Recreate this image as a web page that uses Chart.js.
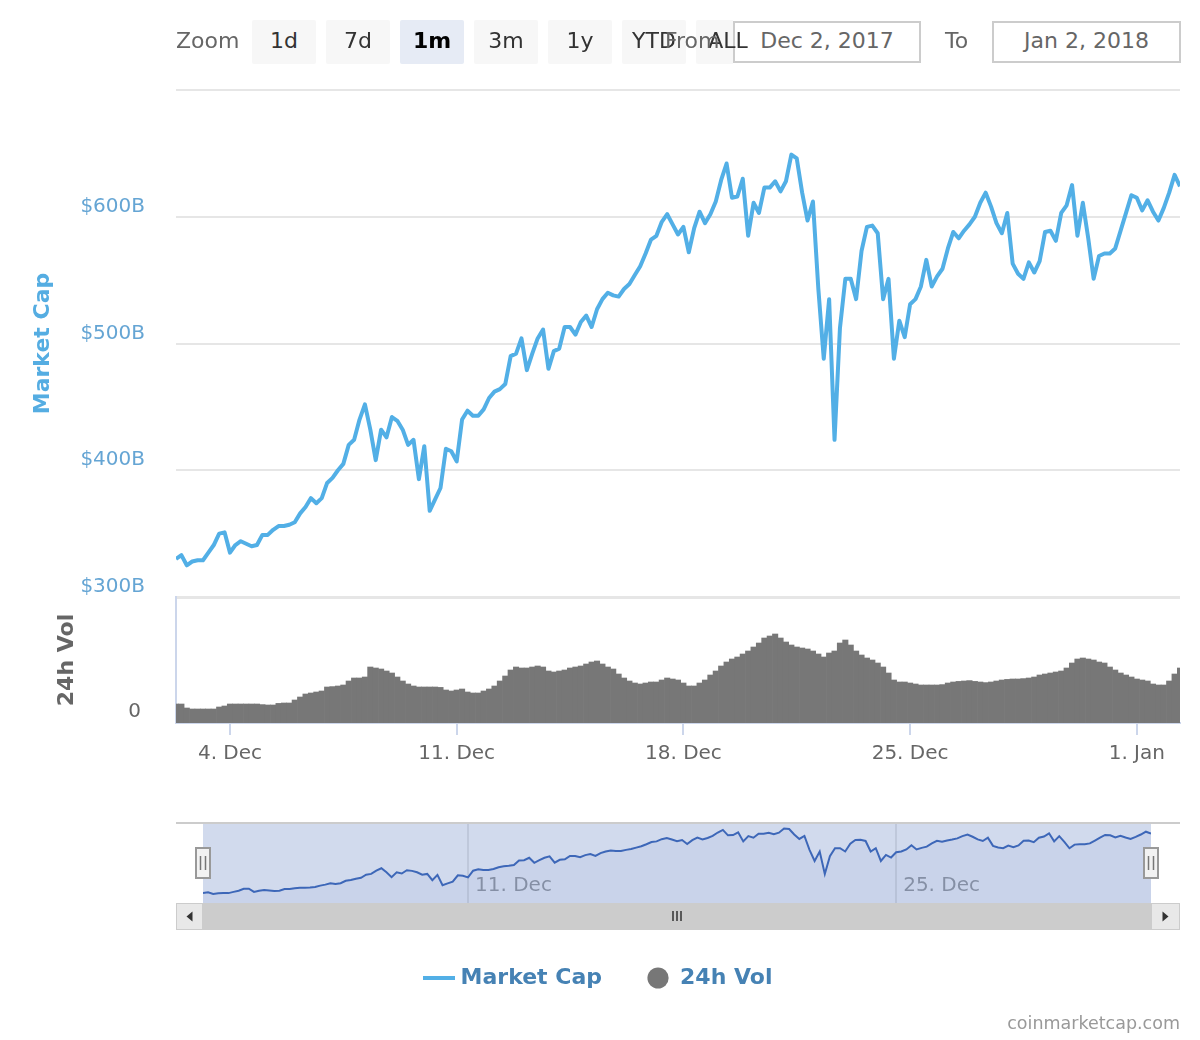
<!DOCTYPE html>
<html>
<head>
<meta charset="utf-8">
<title>Market Cap</title>
<script src="https://cdn.jsdelivr.net/npm/chart.js@4.4.1/dist/chart.umd.min.js"></script>
<style>
  body { margin: 0; background: #fff; font-family: 'DejaVu Sans', sans-serif; }
  #wrap { position: relative; width: 1200px; height: 1040px; overflow: hidden; }
  canvas { position: absolute; }
  #main { left: 0; top: 0; }
  #nav { left: 176px; top: 815px; }
  .lbl { position: absolute; top: 19px; height: 44px; line-height: 44px; color: #666; font-size: 22px; z-index: 4; }
  .btn { position: absolute; top: 20px; width: 64px; height: 44px; line-height: 42px; text-align: center;
         background: #f7f7f7; color: #333; font-size: 22px; border-radius: 2px; z-index: 3; }
  .btn.on { background: #e6ebf5; color: #000; font-weight: bold; }
  .box { position: absolute; top: 21px; height: 38px; line-height: 36px; border: 2px solid #ccc; background: #fff;
         color: #666; font-size: 22px; text-align: center; z-index: 2; }
  #credits { position: absolute; right: 20px; top: 1011px; line-height: 24px; font-size: 17.5px; color: #999; }
</style>
</head>
<body>
<div id="wrap">
  <canvas id="main" width="1200" height="1040"></canvas>
  <canvas id="nav" width="1004" height="120"></canvas>

  <span class="lbl" style="left:176px">Zoom</span>
  <div class="btn" style="left:252px">1d</div>
  <div class="btn" style="left:326px">7d</div>
  <div class="btn on" style="left:400px">1m</div>
  <div class="btn" style="left:474px">3m</div>
  <div class="btn" style="left:548px">1y</div>
  <div class="btn" style="left:622px">YTD</div>
  <div class="btn" style="left:696px; background: linear-gradient(to right, #f7f7f7 37px, transparent 37px)">ALL</div>
  <span class="lbl" style="left:665px">From</span>
  <div class="box" style="left:733px; width:184px">Dec 2, 2017</div>
  <span class="lbl" style="left:945px">To</span>
  <div class="box" style="left:992px; width:185px">Jan 2, 2018</div>

  <div id="credits">coinmarketcap.com</div>
</div>

<script>
// Total market cap and 24h volume, Dec 2 2017 - Jan 2 2018, one reading every 4 hours (values in $B)
const startTime = Date.UTC(2017, 11, 2, 8);
const stepMs = 4 * 3600 * 1000;

const marketCap = [
  330, 333, 325, 328, 329, 329, 335, 341, 350, 351,
  335, 341, 344, 342, 340, 341, 349, 349, 353, 356,
  356, 357, 359, 366, 371, 378, 374, 378, 390, 394,
  400, 405, 420, 424, 440, 452, 432, 408, 432, 426,
  442, 439, 432, 420, 424, 393, 419, 368, 377, 386,
  417, 415, 407, 440, 447, 443, 443, 448, 457, 462,
  464, 468, 490, 492, 504, 479, 492, 504, 511, 480,
  494, 496, 513, 513, 507, 517, 522, 513, 527, 535,
  540, 538, 537, 543, 547, 554, 561, 571, 582, 585,
  596, 602, 594, 586, 592, 572, 591, 604, 595, 602,
  612, 629, 642, 615, 616, 630, 585, 611, 603, 623,
  623, 628, 620, 628, 649, 646, 619, 597, 612, 543,
  488, 535, 424, 512, 551, 551, 535, 573, 592, 593,
  587, 535, 551, 488, 518, 505, 531, 535, 545, 566,
  545, 553, 559, 575, 588, 583, 589, 594, 600, 611,
  619, 608, 595, 587, 603, 563, 555, 551, 564, 556,
  565, 588, 589, 581, 603, 609, 625, 585, 611, 583,
  551, 569, 571, 571, 575, 589, 603, 617, 615, 605,
  613, 604, 597, 607, 619, 633, 624
];

const volume24h = [
  9.5, 9.5, 7.5, 7, 7, 7, 7, 7, 8, 8.5,
  9.5, 9.5, 9.5, 9.5, 9.5, 9.5, 9.2, 9, 9, 9.8,
  10, 10, 11.5, 13, 14.5, 15, 15.5, 16, 18, 18.2,
  18.5, 19, 21, 22.5, 22.5, 23, 28, 27.5, 27, 26,
  25, 23, 21, 19.5, 18.5, 18, 18, 18, 18, 17.8,
  16.5, 16, 16.5, 17, 15.5, 15, 15, 16, 17, 18.5,
  21, 23.5, 26.5, 28, 27.5, 27.5, 28, 28.5, 28, 26,
  25.5, 26, 26.5, 27.5, 28, 28.5, 29.5, 30.5, 31, 29.5,
  28, 27, 24.5, 22.5, 21, 20, 19.5, 20, 20.5, 20.5,
  21.5, 22.5, 22, 21.5, 20, 18.5, 18.5, 20, 21.5, 24,
  26, 28.5, 30.5, 32, 33, 34.5, 36, 38, 40, 42.5,
  43.5, 44.5, 42.5, 40.5, 39, 38, 37.5, 37, 36, 34.5,
  33, 35, 36, 40, 41.5, 39, 36, 34, 32.5, 31.5,
  30, 28, 25, 21.5, 20.5, 20.5, 20, 19.5, 19, 19,
  19, 19, 19.2, 20, 20.5, 20.8, 21, 21.2, 20.8, 20.5,
  20.2, 20.5, 21, 21.5, 21.8, 22, 22, 22.2, 22.5, 23,
  24, 24.5, 25, 25.5, 26, 27.5, 30, 32, 32.5, 32,
  31.5, 30.5, 30, 28, 26.5, 25, 24, 23, 22, 21.5,
  21, 19.5, 19, 19, 21, 24.5, 27.5
];

const capTicks = [300, 400, 500, 600, 700];
const tickDates = [Date.UTC(2017, 11, 4), Date.UTC(2017, 11, 11), Date.UTC(2017, 11, 18), Date.UTC(2017, 11, 25), Date.UTC(2018, 0, 1)];
const tickLabels = ['4. Dec', '11. Dec', '18. Dec', '25. Dec', '1. Jan'];
const navTickDates = [Date.UTC(2017, 11, 11), Date.UTC(2017, 11, 25)];
const navTickLabels = ['11. Dec', '25. Dec'];

const times = marketCap.map((_, i) => startTime + i * stepMs);
const endTime = times[times.length - 1];

const lineColor = '#52afe6';
const volColor = '#777777';
const legendText = '#4682b4';

Chart.defaults.font.family = "'DejaVu Sans', sans-serif";

// legend symbol for the line series
const lineIcon = document.createElement('canvas');
lineIcon.width = 32;
lineIcon.height = 4;
const iconCtx = lineIcon.getContext('2d');
iconCtx.fillStyle = lineColor;
iconCtx.fillRect(0, 0, 32, 4);

// Main chart: market cap pane on top, volume pane below
new Chart(document.getElementById('main'), {
  type: 'line',
  data: {
    datasets: [{
      label: 'Market Cap',
      data: times.map((t, i) => ({ x: t, y: marketCap[i] })),
      yAxisID: 'y',
      borderColor: lineColor,
      backgroundColor: lineColor,
      borderWidth: 4,
      borderJoinStyle: 'round',
      pointRadius: 0,
      tension: 0
    }, {
      type: 'bar',
      label: '24h Vol',
      data: times.map((t, i) => ({ x: t, y: volume24h[i] })),
      yAxisID: 'yv',
      backgroundColor: volColor,
      borderWidth: 0,
      barPercentage: 1,
      categoryPercentage: 1
    }]
  },
  options: {
    responsive: false,
    devicePixelRatio: 1,
    animation: false,
    layout: { padding: { top: 90, right: 0, bottom: 41, left: 0 } },
    plugins: {
      tooltip: { enabled: false },
      legend: {
        position: 'bottom',
        labels: {
          usePointStyle: true,
          boxHeight: 15,
          padding: 45,
          color: legendText,
          font: { size: 22, weight: 'bold' },
          generateLabels: () => [
            { text: 'Market Cap', fontColor: legendText, pointStyle: lineIcon, fillStyle: lineColor, strokeStyle: lineColor, lineWidth: 0, datasetIndex: 0 },
            { text: '24h Vol', fontColor: legendText, pointStyle: 'circle', fillStyle: volColor, strokeStyle: volColor, lineWidth: 0, datasetIndex: 1 }
          ]
        }
      }
    },
    scales: {
      x: {
        type: 'linear',
        min: startTime,
        max: endTime,
        offset: false,
        afterBuildTicks: s => { s.ticks = tickDates.map(v => ({ value: v })); },
        afterFit: s => { s.height = 199; },
        ticks: {
          autoSkip: false, maxRotation: 0, padding: 7, color: '#666', font: { size: 20 },
          callback: (v, i) => tickLabels[i]
        },
        grid: { offset: false, drawOnChartArea: false, drawTicks: true, tickLength: 12, color: '#ccd6eb', lineWidth: 2 },
        border: { display: true, color: '#ccd6eb', width: 2 }
      },
      y: {
        type: 'linear',
        position: 'left',
        stack: 'panes',
        stackWeight: 507,
        weight: 1,
        min: 300,
        max: 700,
        afterBuildTicks: s => { s.ticks = capTicks.map(v => ({ value: v })); },
        afterFit: s => { s.width = 176; },
        ticks: {
          padding: 31, labelOffset: -10, color: '#65a5d4', font: { size: 20 },
          callback: (v, i) => (i === capTicks.length - 1 ? '' : '$' + v + 'B')
        },
        grid: { color: '#e6e6e6', lineWidth: c => (c.tick && c.tick.value === 300 ? 3 : 2), drawTicks: false },
        border: { display: false },
        title: { display: true, text: 'Market Cap', color: '#55ade2', font: { size: 22, weight: 'bold' }, padding: { top: 30 } }
      },
      yv: {
        type: 'linear',
        position: 'left',
        stack: 'panes',
        stackWeight: 126,
        weight: 0,
        min: 0,
        max: 63,
        afterBuildTicks: s => { s.ticks = [{ value: 0 }]; },
        afterFit: s => { s.width = 176; },
        ticks: { padding: 35, labelOffset: -11, color: '#666', font: { size: 20 } },
        grid: { display: false, drawTicks: false },
        border: { display: true, color: '#ccd6eb', width: 2 },
        title: { display: true, text: '24h Vol', color: '#666', font: { size: 22, weight: 'bold' }, padding: { top: 54 } }
      },
      pad: {
        type: 'linear',
        position: 'right',
        afterFit: s => { s.width = 20; },
        ticks: { display: false },
        grid: { display: false, drawTicks: false },
        border: { display: false }
      }
    }
  }
});

// Navigator: mask, outline, handles and scrollbar
const navigatorParts = {
  id: 'navigatorParts',
  beforeDatasetsDraw(chart) {
    const { ctx, chartArea: a } = chart;
    ctx.save();
    ctx.fillStyle = 'rgba(102,133,194,0.3)';
    ctx.fillRect(a.left, a.top, a.right - a.left, a.bottom - a.top);
    ctx.restore();
  },
  afterDraw(chart) {
    const { ctx, chartArea: a, width } = chart;
    const top = a.bottom;
    const h = 27;
    ctx.save();

    // outline
    ctx.strokeStyle = '#cccccc';
    ctx.lineWidth = 2;
    ctx.beginPath();
    ctx.moveTo(0, a.top);
    ctx.lineTo(width, a.top);
    ctx.stroke();

    // scrollbar
    ctx.fillStyle = '#f2f2f2';
    ctx.fillRect(0, top, width, h);
    ctx.fillStyle = '#cccccc';
    ctx.fillRect(a.left, top, a.right - a.left, h);
    ctx.strokeStyle = '#333';
    ctx.lineWidth = 1.5;
    const mid = (a.left + a.right) / 2;
    [-4, 0, 4].forEach(dx => {
      ctx.beginPath();
      ctx.moveTo(mid + dx, top + 8);
      ctx.lineTo(mid + dx, top + 18);
      ctx.stroke();
    });
    [[0, a.left, -1], [a.right, width - a.right, 1]].forEach(([x, w, dir]) => {
      ctx.fillStyle = '#e8e8e8';
      ctx.fillRect(x, top, w, h);
      ctx.strokeStyle = '#cccccc';
      ctx.lineWidth = 1;
      ctx.strokeRect(x + 0.5, top + 0.5, w - 1, h - 1);
      const cx = x + w / 2, cy = top + h / 2;
      ctx.fillStyle = '#333';
      ctx.beginPath();
      ctx.moveTo(cx + 3 * dir, cy);
      ctx.lineTo(cx - 3 * dir, cy - 5);
      ctx.lineTo(cx - 3 * dir, cy + 5);
      ctx.closePath();
      ctx.fill();
    });

    // handles
    const hy = (a.top + a.bottom) / 2;
    [a.left, a.right].forEach(x => {
      ctx.fillStyle = '#f2f2f2';
      ctx.fillRect(x - 7, hy - 15, 14, 30);
      ctx.strokeStyle = '#999';
      ctx.lineWidth = 2;
      ctx.strokeRect(x - 7, hy - 15, 14, 30);
      ctx.lineWidth = 1.5;
      ctx.strokeStyle = '#777';
      [-2.5, 2.5].forEach(dx => {
        ctx.beginPath();
        ctx.moveTo(x + dx, hy - 7);
        ctx.lineTo(x + dx, hy + 7);
        ctx.stroke();
      });
    });
    ctx.restore();
  }
};

new Chart(document.getElementById('nav'), {
  type: 'line',
  data: {
    datasets: [{
      data: times.map((t, i) => ({ x: t, y: marketCap[i] })),
      borderColor: '#3d67b8',
      borderWidth: 2,
      pointRadius: 0,
      tension: 0,
      fill: 'start',
      backgroundColor: 'rgba(51,92,173,0.05)'
    }]
  },
  options: {
    responsive: false,
    devicePixelRatio: 1,
    animation: false,
    layout: { padding: { left: 27, right: 29, top: 8, bottom: 32 } },
    plugins: { legend: { display: false }, tooltip: { enabled: false } },
    scales: {
      x: {
        type: 'linear',
        min: startTime,
        max: endTime,
        afterBuildTicks: s => { s.ticks = navTickDates.map(v => ({ value: v })); },
        afterFit: s => { s.height = 0; },
        ticks: {
          mirror: true, align: 'start', labelOffset: 7, padding: 5, autoSkip: false, maxRotation: 0,
          color: '#999', font: { size: 20 },
          callback: (v, i) => navTickLabels[i]
        },
        grid: { color: '#e6e6e6', lineWidth: 2, drawTicks: false },
        border: { display: false }
      },
      y: { display: false, min: 280, max: 676 }
    }
  },
  plugins: [navigatorParts]
});
</script>
</body>
</html>
